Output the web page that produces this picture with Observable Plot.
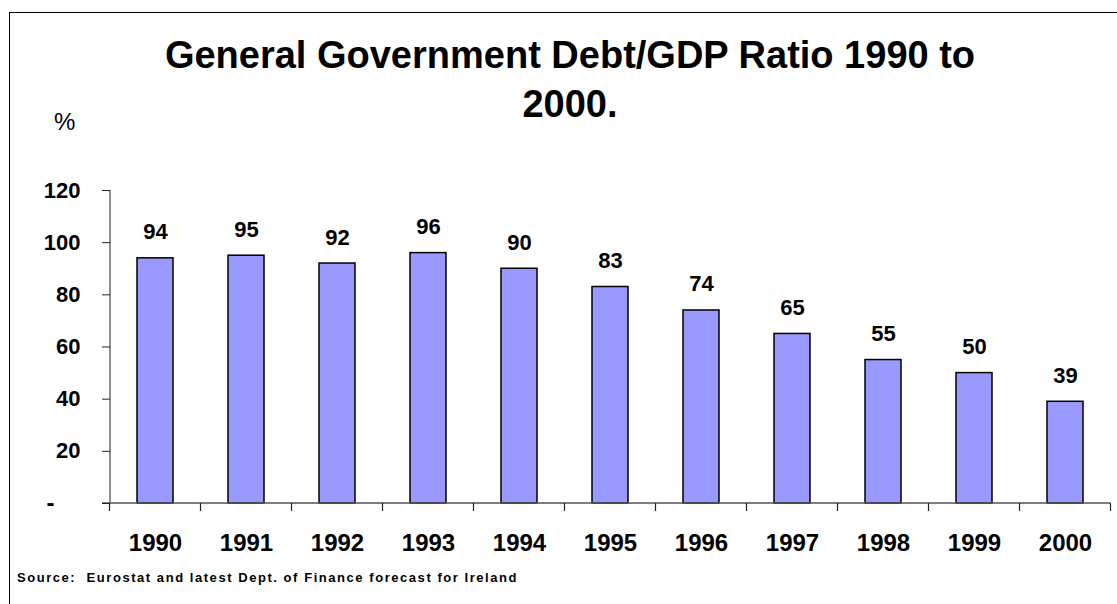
<!DOCTYPE html>
<html>
<head>
<meta charset="utf-8">
<script src="https://cdn.jsdelivr.net/npm/d3@7"></script>
<script src="https://cdn.jsdelivr.net/npm/@observablehq/plot@0.6"></script>
<style>
  html, body { margin: 0; padding: 0; background: #fff; overflow: hidden; width: 1117px; height: 604px; }
  body { font-family: "Liberation Sans", Arial, sans-serif; position: relative; }
  #frame { position: absolute; left: 9px; top: 12px; width: 2000px; height: 2000px;
           border-left: 1.5px solid #000; border-top: 1.5px solid #000; }
  #title { position: absolute; left: 70px; width: 1000px; top: 31px; text-align: center;
           font-weight: bold; font-size: 38px; line-height: 49px; color: #000; }
  #unit { position: absolute; left: 54px; top: 108px; font-size: 24px; color: #000; }
  #chart { position: absolute; left: 0; top: 160px; }
  #source { position: absolute; left: 17px; top: 570px; font-size: 13px; font-weight: bold;
            letter-spacing: 1.55px; color: #000; white-space: pre; }
</style>
</head>
<body>
<div id="frame"></div>
<div id="title">General Government Debt/GDP Ratio 1990 to<br>2000.</div>
<div id="unit">%</div>
<div id="chart"></div>
<div id="source">Source:  Eurostat and latest Dept. of Finance forecast for Ireland</div>
<script>
const years = ["1990","1991","1992","1993","1994","1995","1996","1997","1998","1999","2000"];
const debtRatio = [94, 95, 92, 96, 90, 83, 74, 65, 55, 50, 39];
const yTicks = [0, 20, 40, 60, 80, 100, 120];

const data = years.map((year, i) => ({year, value: debtRatio[i]}));

const axisLines = (index, scales, values, dimensions) => {
  const svgNS = "http://www.w3.org/2000/svg";
  const g = document.createElementNS(svgNS, "g");
  const x = scales.x, y = scales.y;
  const bw = x.bandwidth !== undefined ? (typeof x.bandwidth === "function" ? x.bandwidth() : x.bandwidth) : 0;
  const step = x(years[1]) - x(years[0]);
  const centers = years.map(c => x(c) + bw / 2);
  const bounds = [centers[0] - step / 2, ...centers.map(c => c + step / 2)];
  const y0 = y(0), yTop = y(yTicks[yTicks.length - 1]);
  const xl = dimensions.marginLeft;
  const line = (x1, y1, x2, y2, stroke, w) => {
    const l = document.createElementNS(svgNS, "line");
    l.setAttribute("x1", x1); l.setAttribute("y1", y1);
    l.setAttribute("x2", x2); l.setAttribute("y2", y2);
    l.setAttribute("stroke", stroke); l.setAttribute("stroke-width", w);
    g.appendChild(l);
  };
  line(xl, yTop, xl, y0, "#444", 1.2);
  line(xl - 8, y0, bounds[bounds.length - 1], y0, "#555", 1.5);
  bounds.forEach(b => line(b, y0, b, y0 + 8, "#222", 1.2));
  return g;
};

const plot = Plot.plot({
  width: 1117,
  height: 400,
  marginLeft: 110,
  marginRight: 6,
  marginTop: 30,
  marginBottom: 57,
  style: { fontFamily: "'Liberation Sans', Arial, sans-serif", background: "transparent", overflow: "visible" },
  x: { domain: years, paddingInner: 0.6, paddingOuter: 0.3, axis: null, label: null },
  y: { domain: [0, 120], axis: null, label: null },
  marks: [
    Plot.barY(data, { x: "year", y: "value", fill: "#9999ff", stroke: "#000", strokeWidth: 1.5 }),
    axisLines,
    Plot.axisY(yTicks, {
      tickSize: 8, tickPadding: 22, stroke: "#222", label: null,
      tickFormat: d => d === 0 ? "" : String(d),
      fontSize: 22, fontWeight: "bold", fill: "#000"
    }),
    Plot.text([0], { y: d => d, frameAnchor: "left", dx: -60, text: () => "-",
      fontSize: 24, fontWeight: "bold", fill: "#000", textAnchor: "middle" }),
    Plot.axisX(years, {
      tickSize: 0, tickPadding: 30, label: null, fontSize: 24, fontWeight: "bold", fill: "#000"
    }),
    Plot.text(data, { x: "year", y: "value", text: d => String(d.value), dy: -19, lineAnchor: "bottom",
      fontSize: 22, fontWeight: "bold", fill: "#000" })
  ]
});
document.getElementById("chart").appendChild(plot);
</script>
</body>
</html>
